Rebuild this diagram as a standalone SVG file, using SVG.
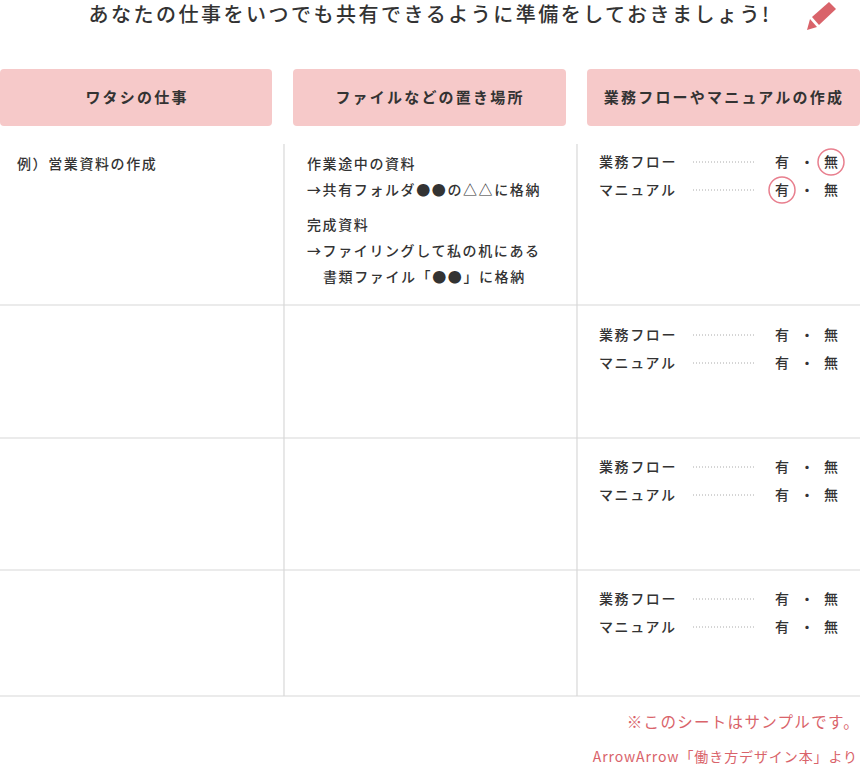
<svg xmlns="http://www.w3.org/2000/svg" width="860" height="765" viewBox="0 0 860 765">
<style>
text{font-family:"Noto Sans CJK JP","Noto Sans",sans-serif;fill:#333;font-weight:500}
.h{font-size:15px;letter-spacing:2.2px;font-weight:700;text-anchor:middle}
.t{font-size:14px;letter-spacing:1.6px}
.m{font-size:14px;text-anchor:middle}
.hd{fill:#f6c9c9}
.ln{stroke:#d8d8d8;stroke-width:1.2}
.dot{stroke:#aaa;stroke-width:1;stroke-dasharray:1 2}
.c{fill:none;stroke:#e87f8e;stroke-width:1.5}
.red{fill:#d9636a;font-weight:400}
</style>
<rect width="860" height="765" fill="#fff"/>
<text x="430" y="22" font-size="20" text-anchor="middle" letter-spacing="2.5" font-weight="700">あなたの仕事をいつでも共有できるように準備をしておきましょう!</text>
<g id="pencil" fill="#d9636a">
<path d="M812,17 L829,2 L836,9 L819,25 Z"/>
<path d="M810,19 L817,27 L807,30 Z"/>
</g>
<g id="headers">
<rect class="hd" x="0" y="69" width="272" height="57" rx="4"/>
<text class="h" x="137" y="103">ワタシの仕事</text>
<rect class="hd" x="293" y="69" width="273" height="57" rx="4"/>
<text class="h" x="430" y="103">ファイルなどの置き場所</text>
<rect class="hd" x="587" y="69" width="273" height="57" rx="4"/>
<text class="h" x="724" y="103" letter-spacing="2.8">業務フローやマニュアルの作成</text>
</g>
<g id="lines">
<line class="ln" x1="284" y1="144" x2="284" y2="696"/>
<line class="ln" x1="577" y1="144" x2="577" y2="696"/>
<line class="ln" x1="0" y1="305" x2="860" y2="305"/>
<line class="ln" x1="0" y1="438" x2="860" y2="438"/>
<line class="ln" x1="0" y1="570" x2="860" y2="570"/>
<line class="ln" x1="0" y1="696" x2="860" y2="696"/>
</g>
<g id="row1">
<text class="t" x="17" y="169">例）営業資料の作成</text>
<text class="t" x="307" y="169">作業途中の資料</text>
<text class="t" x="307" y="195">→共有フォルダ●●の△△に格納</text>
<text class="t" x="307" y="230">完成資料</text>
<text class="t" x="307" y="256">→ファイリングして私の机にある</text>
<text class="t" x="323" y="282">書類ファイル「●●」に格納</text>
</g>
<defs>
<g id="pair">
<text class="t" x="599" y="167">業務フロー</text><line class="dot" x1="693" y1="162" x2="754" y2="162"/>
<text class="m" x="782" y="167">有</text><text class="m" x="807" y="167">・</text><text class="m" x="831" y="167">無</text>
<text class="t" x="599" y="195">マニュアル</text><line class="dot" x1="693" y1="190" x2="754" y2="190"/>
<text class="m" x="782" y="195">有</text><text class="m" x="807" y="195">・</text><text class="m" x="831" y="195">無</text>
</g>
</defs>
<g id="flows">
<g id="f1"><use href="#pair"/><circle class="c" cx="831" cy="162" r="13"/><circle class="c" cx="782" cy="190" r="13"/></g>
<g id="f2"><use href="#pair" y="173"/></g>
<g id="f3"><use href="#pair" y="305"/></g>
<g id="f4"><use href="#pair" y="437"/></g>
</g>
<text class="red" x="860" y="728" font-size="15.5" text-anchor="end" letter-spacing="1.3">※このシートはサンプルです。</text>
<text class="red" x="858" y="762" font-size="14" text-anchor="end" letter-spacing="0.9">ArrowArrow「働き方デザイン本」より</text>
</svg>
